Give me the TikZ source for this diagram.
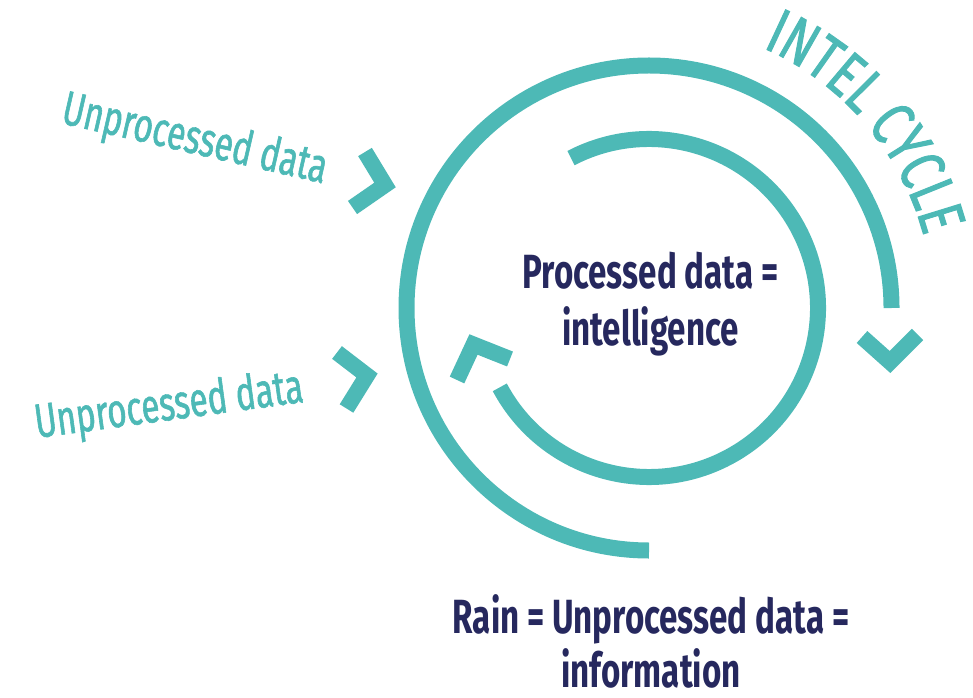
\documentclass[tikz,border=0pt]{standalone}
\usepackage{fontspec}
\setmainfont{Fira Sans}
\newfontfamily\cycfont{Fira Sans}[FakeStretch=0.69, FakeBold=1.2]
\newfontfamily\navyfont{Fira Sans}[FakeStretch=0.69]
\newfontfamily\titlefont{Fira Sans}[FakeStretch=0.73, FakeBold=1.5]
\usetikzlibrary{decorations.text}
\definecolor{cycteal}{HTML}{4DB9B6}
\definecolor{cycnavy}{HTML}{26285E}
\tikzset{
  ring/.style={draw=cycteal, line width=16pt, line cap=butt},
  chev/.style={draw=cycteal, line width=16pt, line join=miter, line cap=butt},
  tealtxt/.style={text=cycteal, font=\cycfont\fontsize{48}{48}\selectfont, inner sep=0pt, outer sep=0pt},
  navytxt/.style={text=cycnavy, font=\navyfont\bfseries\fontsize{48}{57}\selectfont, align=center, inner sep=0pt, outer sep=0pt}
}
\begin{document}
\begin{tikzpicture}[x=1pt,y=1pt]
\useasboundingbox (0,0) rectangle (973,697);
\coordinate (C) at (649,389);
% outer ring
\draw[ring] (C) ++(0:242.5) arc[start angle=0, end angle=270, radius=242.5];
% inner ring
\draw[ring] (C) ++(117.5:169) arc[start angle=117.5, end angle=-152, radius=169];
% chevrons
\draw[chev] (862,360) -- (890,335) -- (917.5,362.5);
\draw[chev] (510,338) -- (473.5,352.5) -- (457,317);
\draw[chev] (365,545) -- (385,512) -- (352.5,489.5);
\draw[chev] (337,344.5) -- (367,321.5) -- (346.5,288.5);
% curved title
\path[decorate, decoration={text along path, text align=center,
   text={|\titlefont\fontsize{64}{64}\selectfont\color{cycteal}|INTEL CYCLE}}]
   (C) ++(67:284) arc[start angle=67, end angle=14, radius=284];
% texts
\node[tealtxt, anchor=base west, rotate=-12.9] (u1) at (60,574) {Unprocessed data};
\node[tealtxt, anchor=base west, rotate=7.7] (u2) at (37,259) {Unprocessed data};
\node[navytxt, anchor=base] (pd) at (650.5,352) {Processed data =\\intelligence};
\node[navytxt, anchor=base, font=\navyfont\bfseries\fontsize{48}{54}\selectfont] (rain) at (651,10) {Rain = Unprocessed data =\\information};
\end{tikzpicture}
\end{document}
